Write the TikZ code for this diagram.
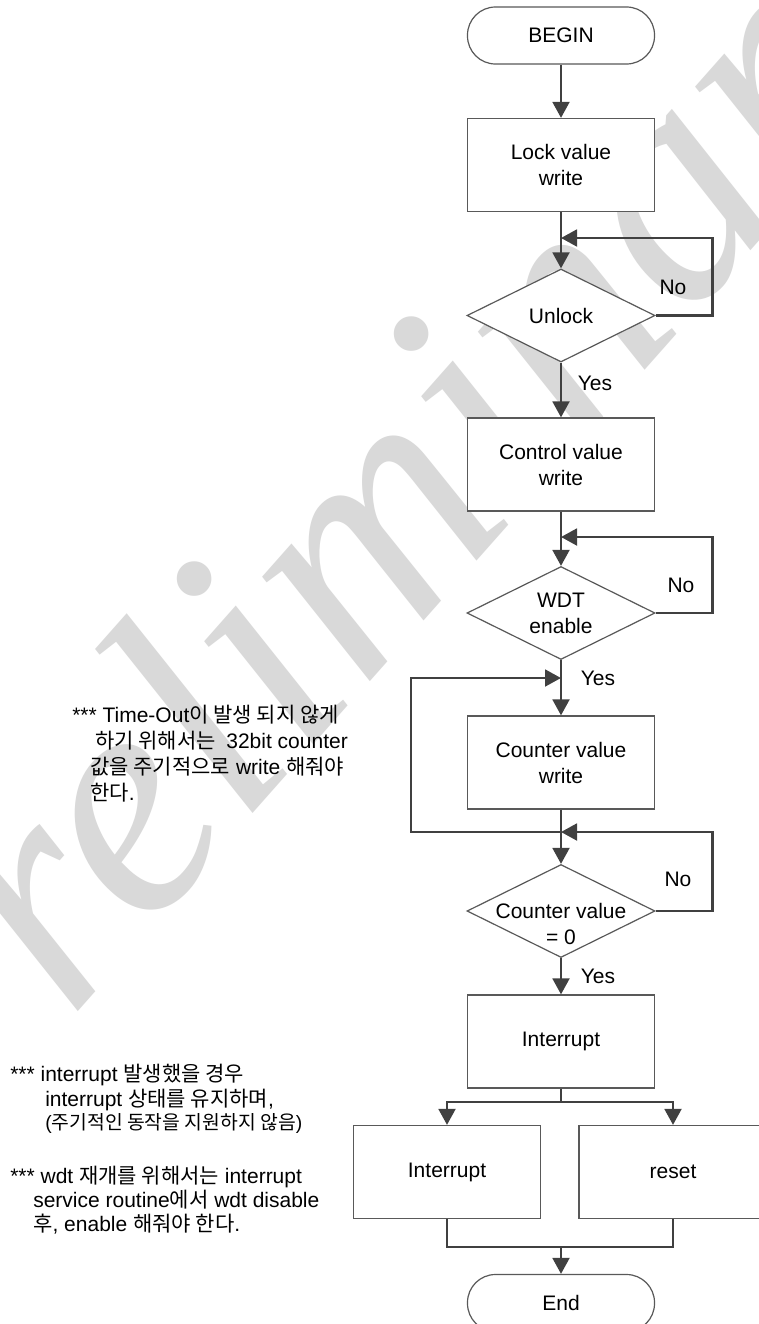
\documentclass[tikz,border=0pt]{standalone}
\usepackage{fontspec}
\setmainfont{Liberation Sans}
\newfontfamily\kr{Noto Sans CJK KR}
\newfontfamily\wmfont{Liberation Serif}
\usetikzlibrary{shapes.geometric,arrows.meta}
\definecolor{linegray}{HTML}{404040}
\definecolor{boxgray}{HTML}{595959}
\definecolor{wmgray}{HTML}{D9D9D9}

\begin{document}
\begin{tikzpicture}[x=0.75pt,y=-0.75pt,
  every node/.style={font=\fontsize{15.75}{19.5}\selectfont, text=black},
  proc/.style={draw=boxgray, fill=white, line width=0.9pt, minimum width={187*0.75pt},
    minimum height={93*0.75pt}, inner sep=0pt, align=center},
  term/.style={proc, rounded corners=21pt, minimum height={57*0.75pt}},
  dec/.style={draw=boxgray, fill=white, line width=0.9pt, diamond, aspect=2,
    minimum width={188*0.75pt}, minimum height={93*0.75pt}, inner sep=0pt},
  flow/.style={draw=linegray, line width=2.2pt, -{Triangle[length=12pt,width=12.5pt]}},
  link/.style={draw=linegray, line width=2.2pt},
  tag/.style={inner sep=0pt, align=center},
  note/.style={inner sep=0pt, anchor=base west},
  small/.style={font=\fontsize{14.5}{16}\selectfont},
]
\useasboundingbox (0,0) rectangle (758,1324);
\fill[white] (0,0) rectangle (758,1324);

% watermark behind everything
\node[anchor=base west, rotate=48.5, inner sep=0pt, text=wmgray,
  font={\wmfont\itshape\fontsize{245}{250}\selectfont}] (wm) at (-63,1171) {Preliminary};

% flow steps
\node[term] (begin) at (561,35.5) {BEGIN};
\node[proc] (lock) at (561,165) {Lock value\\write};
\node[dec] (unlock) at (561,315.5) {};
\node[tag] (unlockT) at (561,315.5) {Unlock};
\node[proc] (ctrl) at (561,464.5) {Control value\\write};
\node[dec] (wdt) at (561,613) {};
\node[tag] (wdtT) at (561,613) {WDT\\enable};
\node[proc] (cnt) at (561,762.5) {Counter value\\write};
\node[dec] (zero) at (561,911) {};
\node[tag] (zeroT) at (561,924) {Counter value\\= 0};
\node[proc] (irq) at (561,1041.5) {Interrupt};
\node[proc] (irqL) at (447,1172) {Interrupt};
\node[proc, minimum width={188*0.75pt}] (rst) at (673,1172) {reset};
\node[term] (fin) at (561,1303) {End};

% junction points
\coordinate (j1) at (561,238);
\coordinate (j2) at (561,537);
\coordinate (j3) at (561,678);
\coordinate (j4) at (561,832);
\coordinate (s1) at (561,1102);
\coordinate (s2) at (561,1247);

% connectors
\draw[flow] (begin) -- (lock);
\draw[flow] (lock) -- (unlock);
\draw[flow] (unlock.east) -- ++(57,0) |- (j1);
\draw[flow] (unlock) -- (ctrl);
\draw[flow] (ctrl) -- (wdt);
\draw[flow] (wdt.east) -- ++(57,0) |- (j2);
\draw[flow] (wdt) -- (cnt);
\draw[flow] (j4) -- (411,832) -- (411,678) -- (j3);
\draw[flow] (cnt) -- (zero);
\draw[flow] (zero.east) -- ++(57,0) |- (j4);
\draw[flow] (zero) -- (irq);
\draw[link] (irq) -- (s1);
\draw[flow] (s1) -| (irqL);
\draw[flow] (s1) -| (rst);
\draw[link] (irqL.south) |- (s2) -| (rst.south);
\draw[flow] (s2) -- (fin);

% branch labels
\node[tag] (no1) at (673,287) {No};
\node[tag] (no2) at (681,585) {No};
\node[tag] (no3) at (678,879) {No};
\node[tag] (yes1) at (595,383) {Yes};
\node[tag] (yes2) at (598,678) {Yes};
\node[tag] (yes3) at (598,976) {Yes};

% side notes
\node[note] (n1a) at (72,722.5) {*** Time-Out{\kr 이 발생 되지 않게}};
\node[note] (n1b) at (95,748.5) {{\kr 하기 위해서는}\hspace{0.5em}32bit counter};
\node[note] (n1c) at (90,774.5) {{\kr 값을 주기적으로} write {\kr 해줘야}};
\node[note] (n1d) at (90,800.5) {{\kr 한다}.};

\node[note] (n2a) at (10,1081) {*** interrupt {\kr 발생했을 경우}};
\node[note] (n2b) at (45,1106) {interrupt {\kr 상태를 유지하며},};
\node[note, small] (n2c) at (45,1129) {({\kr 주기적인 동작을 지원하지 않음})};
\node[note] (n2d) at (10,1183) {*** wdt {\kr 재개를 위해서는} interrupt};
\node[note] (n2e) at (33,1207) {service routine{\kr 에서} wdt disable};
\node[note] (n2f) at (33,1231) {{\kr 후}, enable {\kr 해줘야 한다}.};
\end{tikzpicture}
\end{document}
